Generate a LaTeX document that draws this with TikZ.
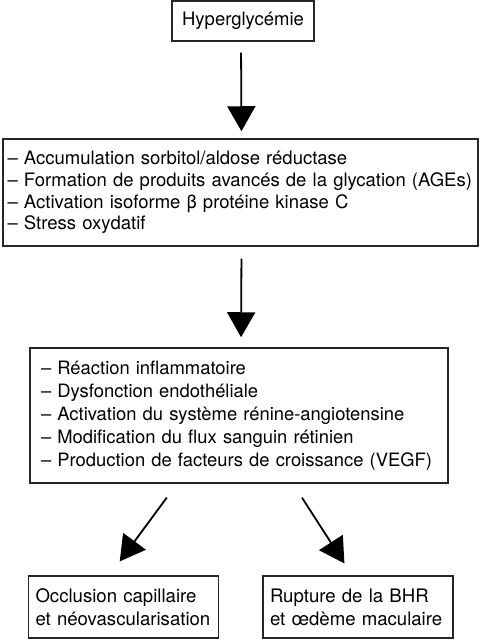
\documentclass[tikz,border=0pt]{standalone}
\usepackage{fontspec}
\setmainfont{TeX Gyre Heros}
\usetikzlibrary{arrows.meta}
\begin{document}
\begin{tikzpicture}[x=0.5pt, y=-0.5pt,
    boite/.style={draw=black!85, line width=0.75pt, rectangle, align=left,
      font=\fontsize{9.25}{10.9}\selectfont, inner ysep=0pt},
    fleche/.style={line width=0.9pt, -{Triangle[width=14pt, length=12.5pt]}}]
  \useasboundingbox (0,0) rectangle (482,640);
  % boites
  \node[boite, align=center, minimum width=71pt, minimum height=20pt] (hyper) at (243,21) {Hyperglycémie};
  \node[boite, inner xsep=2.3pt, text width=233pt, minimum height=53.5pt] (voies) at (240.5,192.5)
    {-- Accumulation sorbitol/aldose réductase\\
     -- Formation de produits avancés de la glycation (AGEs)\\
     -- Activation isoforme β protéine kinase C\\
     -- Stress oxydatif};
  \node[boite, inner xsep=5.5pt, text width=198pt, minimum height=67.5pt, font=\fontsize{9.2}{11.5}\selectfont] (effets) at (239,415.5)
    {-- Réaction inflammatoire\\
     -- Dysfonction endothéliale\\
     -- Activation du système rénine-angiotensine\\
     -- Modification du flux sanguin rétinien\\
     -- Production de facteurs de croissance (VEGF)};
  \node[boite, inner xsep=3.5pt, text width=88pt, minimum height=31pt, font=\fontsize{9.3}{11.5}\selectfont] (occl) at (123.5,607)
    {Occlusion capillaire\\et néovascularisation};
  \node[boite, inner xsep=3.5pt, text width=88pt, minimum height=31pt, font=\fontsize{9.3}{11.5}\selectfont] (bhr) at (358,607)
    {Rupture de la BHR\\et œdème maculaire};
  % fleches
  \draw[fleche, shorten <=5.5pt, shorten >=3.5pt] ([xshift=-1pt]hyper.south) -- ([xshift=0.5pt]voies.north);
  \draw[fleche, shorten <=6pt, shorten >=5pt] ([xshift=0.5pt]voies.south) -- ([xshift=1pt]effets.north);
  \draw[fleche, shorten <=8.6pt, shorten >=8.6pt] ([xshift=-31pt]effets.south) -- ([xshift=-7pt]occl.north);
  \draw[fleche, shorten <=8.3pt, shorten >=7pt] ([xshift=27pt]effets.south) -- ([xshift=-3pt]bhr.north);
\end{tikzpicture}
\end{document}
